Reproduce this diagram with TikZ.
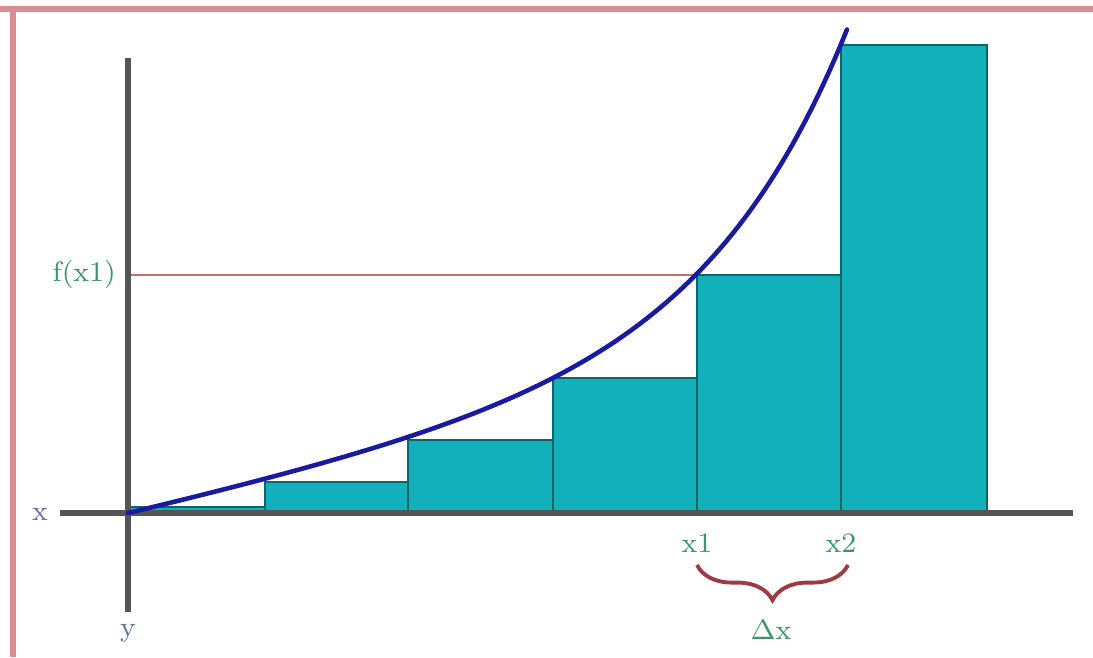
\documentclass[tikz,border=0pt]{standalone}
\usetikzlibrary{decorations.pathreplacing}
\definecolor{bar}{RGB}{18,176,186}
\definecolor{barline}{RGB}{14,100,105}
\definecolor{curve}{RGB}{26,26,160}
\definecolor{axisc}{RGB}{85,85,85}
\definecolor{refl}{RGB}{200,110,110}
\definecolor{lab}{RGB}{60,150,105}
\definecolor{axlab}{RGB}{100,115,150}
\definecolor{bracec}{RGB}{160,58,66}
\definecolor{framec}{RGB}{218,140,148}
\tikzset{
  barbox/.style={fill=bar, draw=barline, line width=0.45pt},
  axisline/.style={draw=axisc, line width=1.5pt},
  lbl/.style={text=lab, font=\fontsize{8}{9}\selectfont, inner sep=1pt},
  axl/.style={text=axlab, font=\fontsize{8}{9}\selectfont, inner sep=1pt}
}
\begin{document}
\begin{tikzpicture}[x=0.01cm, y=-0.01cm]
\useasboundingbox (0,0) rectangle (1093,657);
\fill[white] (0,0) rectangle (1093,657);
% frame
\draw[framec, line width=1.8pt] (0,9) -- (1093,9);
\draw[framec, line width=1.6pt] (13,9) -- (13,657);
% bars
\draw[barbox] (128,507) rectangle (265,513);
\draw[barbox] (265,482) rectangle (408,513);
\draw[barbox] (408,440) rectangle (553,513);
\draw[barbox] (553,378) rectangle (697,513);
\draw[barbox] (697,275) rectangle (841,513);
\draw[barbox] (841,45) rectangle (987,513);
% reference line f(x1)
\draw[refl, line width=0.6pt] (128,275) -- (697,275);
% axes
\coordinate (ytop) at (128,58);
\coordinate (ybot) at (128,612);
\coordinate (xl) at (60,513);
\coordinate (xr) at (1073,513);
\draw[axisline] (ytop) -- (ybot);
\draw[axisline] (xl) -- (xr);
% curve
\draw[curve, line width=1.3pt, line cap=round] plot[domain=0:719, samples=120, variable=\t]
  ({128+\t}, {513 - (2.102*(exp(0.007*\t)-1) + 0.2257*\t)});
% labels
\node[lbl, anchor=east] (fx1) at (120,274) {f(x1)};
\node[axl] (xlab) at (40,514) {x};
\node[axl] (ylab) at (128,633) {y};
\node[lbl] (x1) at (697,543) {x1};
\node[lbl] (x2) at (841,543) {x2};
\coordinate (bl) at (697,565);
\coordinate (br) at (848,565);
\draw[bracec, line width=1.1pt, decorate, decoration={brace, mirror, amplitude=10pt}] (bl) -- (br);
\node[lbl] (dx) at (771,630) {$\Delta$x};
\end{tikzpicture}
\end{document}
